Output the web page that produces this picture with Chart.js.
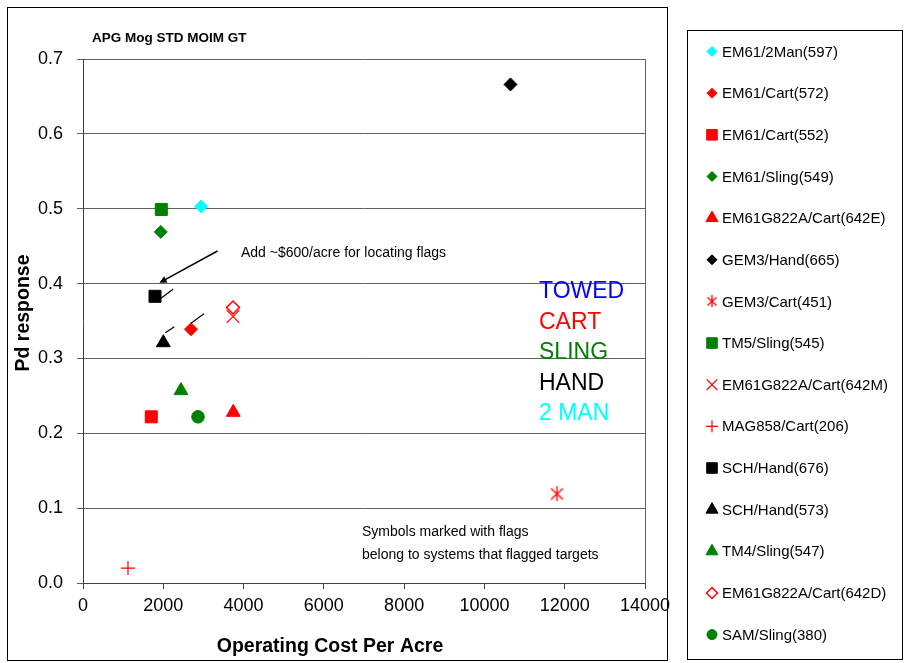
<!DOCTYPE html>
<html>
<head>
<meta charset="utf-8">
<script src="https://cdn.jsdelivr.net/npm/chart.js@4"></script>
<style>
  body { margin: 0; background: #fff; }
  canvas { display: block; }
</style>
</head>
<body>
<canvas id="chart" width="904" height="663"></canvas>
<script>
// system names, operating cost ($/acre) and Pd response
const systems = [
  "EM61/2Man(597)", "EM61/Cart(572)", "EM61/Cart(552)", "EM61/Sling(549)",
  "EM61G822A/Cart(642E)", "GEM3/Hand(665)", "GEM3/Cart(451)", "TM5/Sling(545)",
  "EM61G822A/Cart(642M)", "MAG858/Cart(206)", "SCH/Hand(676)", "SCH/Hand(573)",
  "TM4/Sling(547)", "EM61G822A/Cart(642D)", "SAM/Sling(380)"
];
const costPerAcre = [2944, 2690, 1701, 1938, 3744, 10649, 11807, 1951, 3737, 1121, 1794, 2001, 2441, 3737, 2865];
const pdResponse = [0.503, 0.339, 0.222, 0.469, 0.228, 0.666, 0.119, 0.499, 0.356, 0.020, 0.383, 0.321, 0.257, 0.368, 0.222];
const markerColors = [
  "#00ffff", "#ff0000", "#ff0000", "#008000", "#ff0000", "#000000", "#ff0000", "#008000",
  "#ff0000", "#ff0000", "#000000", "#000000", "#008000", "#ff0000", "#008000"
];
const markerShapes = [
  "diamond", "diamond", "square", "diamond", "triangle", "diamond", "asterisk", "square",
  "x", "plus", "square", "triangle", "triangle", "openDiamond", "circle"
];
const xTicks = [0, 2000, 4000, 6000, 8000, 10000, 12000, 14000];
const yTicks = [0, 0.1, 0.2, 0.3, 0.4, 0.5, 0.6, 0.7];

// systems that flagged their targets
const flaggedSystems = [1, 10, 11];
const platformLabels = ["TOWED", "CART", "SLING", "HAND", "2 MAN"];
const platformColors = ["#0000ff", "#ff0000", "#008000", "#000000", "#00ffff"];

const FONT = "'Liberation Sans', Arial, sans-serif";

function asteriskCanvas(size, color) {
  const c = document.createElement("canvas");
  c.width = size; c.height = size;
  const g = c.getContext("2d");
  g.strokeStyle = color;
  g.lineWidth = 1.3;
  g.beginPath();
  g.moveTo(1.5, 2); g.lineTo(size - 1.5, size - 2);
  g.moveTo(size - 1.5, 2); g.lineTo(1.5, size - 2);
  g.moveTo(size / 2, 0); g.lineTo(size / 2, size);
  g.stroke();
  return c;
}

// how each marker kind maps onto chart.js point styles
const shapeStyle = {
  diamond:     { style: "rectRot",  r: 6.5, lr: 5,   bw: 1,   fill: true },
  square:      { style: "rect",     r: 8.5, lr: 7.5, bw: 1,   fill: true },
  triangle:    { style: "triangle", r: 8,   lr: 7,   bw: 1,   fill: true },
  circle:      { style: "circle",   r: 6.3, lr: 5,   bw: 1,   fill: true },
  plus:        { style: "cross",    r: 7,   lr: 6,   bw: 1.2, fill: false },
  x:           { style: "crossRot", r: 9,   lr: 7.5, bw: 1.2, fill: false },
  openDiamond: { style: "rectRot",  r: 6.5, lr: 5.5, bw: 1.5, fill: false },
  asterisk:    { style: "image",    r: 8,   lr: 6,   bw: 0,   fill: false }
};

function pointStyleFor(i, legend) {
  const s = shapeStyle[markerShapes[i]];
  if (s.style === "image") return asteriskCanvas(legend ? 12 : 15, markerColors[i]);
  return s.style;
}

const datasets = systems.map((name, i) => {
  const s = shapeStyle[markerShapes[i]];
  return {
    label: name,
    data: [{ x: costPerAcre[i], y: pdResponse[i] }],
    pointStyle: pointStyleFor(i, false),
    pointRadius: s.r,
    pointBorderWidth: s.bw,
    pointBorderColor: markerColors[i],
    pointBackgroundColor: s.fill ? markerColors[i] : "#ffffff",
    showLine: false
  };
});

function drawArrow(ctx, x1, y1, x2, y2) {
  const ang = Math.atan2(y2 - y1, x2 - x1);
  ctx.beginPath();
  ctx.moveTo(x1, y1);
  ctx.lineTo(x2 - Math.cos(ang) * 6, y2 - Math.sin(ang) * 6);
  ctx.stroke();
  ctx.beginPath();
  ctx.moveTo(x2, y2);
  ctx.lineTo(x2 - Math.cos(ang - 0.45) * 8, y2 - Math.sin(ang - 0.45) * 8);
  ctx.lineTo(x2 - Math.cos(ang + 0.45) * 8, y2 - Math.sin(ang + 0.45) * 8);
  ctx.closePath();
  ctx.fill();
}

// flag tick offsets per marker kind (pixels from the point centre)
const flagOffsets = {
  diamond: [0, -6, 13, -15.5],
  square: [6, 2, 18, -7],
  triangle: [2, -10, 11, -16]
};

const decor = {
  id: "decor",
  afterDatasetsDraw(chart) {
    const { ctx, scales: { x, y } } = chart;
    ctx.save();
    ctx.strokeStyle = "#000";
    ctx.fillStyle = "#000";
    ctx.lineWidth = 1.2;
    flaggedSystems.forEach(i => {
      const px = x.getPixelForValue(costPerAcre[i]);
      const py = y.getPixelForValue(pdResponse[i]);
      const o = flagOffsets[markerShapes[i]];
      ctx.beginPath();
      ctx.moveTo(px + o[0], py + o[1]);
      ctx.lineTo(px + o[2], py + o[3]);
      ctx.stroke();
    });
    // arrow from the note to the flagged hand system
    ctx.lineWidth = 1.5;
    drawArrow(ctx, x.getPixelForValue(3350), y.getPixelForValue(0.4435),
              x.getPixelForValue(1905), y.getPixelForValue(0.401));
    ctx.restore();
  },
  afterDraw(chart) {
    const { ctx, chartArea: a } = chart;
    ctx.save();
    // outer frame and plot border
    ctx.strokeStyle = "#000";
    ctx.lineWidth = 1;
    ctx.strokeRect(7.5, 7.5, 660, 653);
    ctx.strokeStyle = "#606060";
    ctx.beginPath();
    ctx.moveTo(Math.round(a.right) + 0.5, a.top);
    ctx.lineTo(Math.round(a.right) + 0.5, a.bottom);
    ctx.stroke();

    ctx.fillStyle = "#000";
    ctx.textBaseline = "middle";
    ctx.textAlign = "left";
    ctx.font = "bold 13.5px " + FONT;
    ctx.fillText("APG Mog STD MOIM GT", 92, 38);

    ctx.font = "14px " + FONT;
    ctx.fillText("Add ~$600/acre for locating flags", 241, 253);
    ctx.fillText("Symbols marked with flags", 362, 532);
    ctx.fillText("belong to systems that flagged targets", 362, 555);

    ctx.font = "23px " + FONT;
    platformLabels.forEach((t, i) => {
      ctx.fillStyle = platformColors[i];
      ctx.fillText(t, 539, 292 + i * 30.4);
    });

    // axis titles
    ctx.fillStyle = "#000";
    ctx.font = "bold 19.5px " + FONT;
    ctx.textAlign = "center";
    ctx.fillText("Operating Cost Per Acre", 330, 647);
    ctx.save();
    ctx.translate(24, 313);
    ctx.rotate(-Math.PI / 2);
    ctx.fillText("Pd response", 0, 0);
    ctx.restore();

    // legend
    ctx.strokeStyle = "#000";
    ctx.strokeRect(687.5, 30.5, 215, 629);
    ctx.textAlign = "left";
    ctx.font = "15px " + FONT;
    systems.forEach((name, i) => {
      const ly = 51.5 + i * 41.65;
      const s = shapeStyle[markerShapes[i]];
      ctx.fillStyle = s.fill ? markerColors[i] : "#ffffff";
      ctx.strokeStyle = markerColors[i];
      ctx.lineWidth = s.bw;
      Chart.helpers.drawPoint(ctx, {
        pointStyle: pointStyleFor(i, true),
        rotation: 0,
        radius: s.lr,
        borderWidth: s.bw
      }, 712, ly);
      ctx.fillStyle = "#000";
      ctx.fillText(name, 722, ly + 1);
    });
    ctx.restore();
  }
};

new Chart(document.getElementById("chart"), {
  type: "scatter",
  data: { datasets },
  options: {
    responsive: false,
    animation: false,
    events: [],
    layout: { padding: { top: 59, right: 259, left: 0, bottom: 0 } },
    plugins: { legend: { display: false }, tooltip: { enabled: false } },
    scales: {
      x: {
        type: "linear",
        min: 0,
        max: 14000,
        afterBuildTicks: s => { s.ticks = xTicks.map(v => ({ value: v })); },
        afterFit: s => { s.height = 80; },
        border: { color: "#404040", width: 1 },
        grid: { drawOnChartArea: false, drawTicks: true, tickLength: 6, color: "#404040" },
        ticks: {
          padding: 6,
          color: "#000",
          font: { family: FONT, size: 18 },
          callback: v => String(v)
        }
      },
      y: {
        type: "linear",
        min: 0,
        max: 0.7,
        afterBuildTicks: s => { s.ticks = yTicks.map(v => ({ value: v })); },
        afterFit: s => { s.width = 83; },
        border: { color: "#404040", width: 1 },
        grid: { drawOnChartArea: true, drawTicks: true, tickLength: 6, color: "#606060" },
        ticks: {
          padding: 14,
          color: "#000",
          font: { family: FONT, size: 18 },
          callback: v => v.toFixed(1)
        }
      }
    }
  },
  plugins: [decor]
});
</script>
</body>
</html>
